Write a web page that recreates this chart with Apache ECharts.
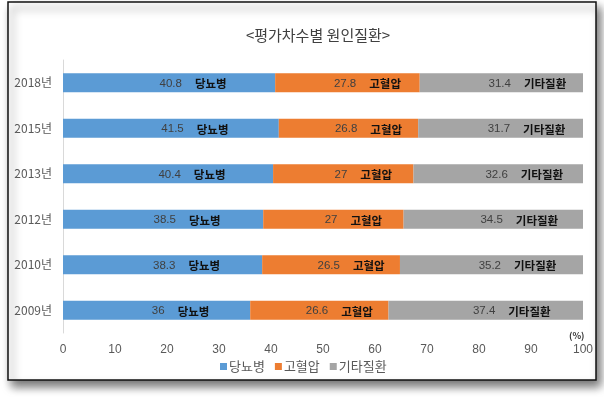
<!DOCTYPE html>
<html>
<head>
<meta charset="utf-8">
<script src="https://cdn.jsdelivr.net/npm/echarts@6/dist/echarts.min.js"></script>
<style>
	html, body { margin: 0; padding: 0; background: #fff; }
	#chart { width: 604px; height: 397px; }
</style>
</head>
<body>
<div id="chart"></div>
<script>
// 위에서 아래 순서 (yAxis inverse)
const years = ["2018년", "2015년", "2013년", "2012년", "2010년", "2009년"];
const diabetes = [40.8, 41.5, 40.4, 38.5, 38.3, 36];
const hypertension = [27.8, 26.8, 27, 27, 26.5, 26.6];
const others = [31.4, 31.7, 32.6, 34.5, 35.2, 37.4];
const seriesNames = ["당뇨병", "고혈압", "기타질환"];
const colors = ["#5b9bd5", "#ed7d31", "#a5a5a5"];
const xTicks = [0, 10, 20, 30, 40, 50, 60, 70, 80, 90, 100];

const font = "'Noto Sans CJK KR', 'Noto Sans', sans-serif";

function makeSeries(name, data, color, dx) {
	return {
		name: name,
		type: "bar",
		stack: "total",
		barWidth: 19,
		data: data,
		itemStyle: { color: color },
		label: {
			show: true,
			position: "inside",
			offset: [dx, 1],
			formatter: (p) => "{v|" + p.value + "}{n|" + name + "}",
			rich: {
				v: { fontSize: 11.5, color: "#404040", fontFamily: "'Liberation Sans', sans-serif", padding: [0, 13, 0, 0] },
				n: { fontSize: 11.5, color: "#111", fontWeight: "bold", fontFamily: font },
			},
		},
	};
}

const chart = echarts.init(document.getElementById("chart"));
chart.setOption({
	animation: false,
	textStyle: { fontFamily: font },
	graphic: [
		{
			type: "rect",
			z: -10,
			shape: { x: 8, y: 2, width: 588, height: 378 },
			style: {
				fill: "#fff",
				stroke: "#111",
				lineWidth: 1.5,
				shadowBlur: 9,
				shadowOffsetX: 4,
				shadowOffsetY: 6,
				shadowColor: "rgba(0,0,0,0.55)",
			},
		},
		{
			type: "text",
			left: 569,
			top: 331,
			style: { text: "(%)", fontSize: 9, fontWeight: "bold", fill: "#333", fontFamily: font },
		},
	],
	title: {
		text: "<평가차수별 원인질환>",
		left: 313,
		textAlign: "center",
		top: 23,
		textStyle: { fontSize: 15, fontWeight: "normal", color: "#404040", fontFamily: font },
	},
	legend: {
		data: seriesNames,
		left: 215,
		top: 355,
		itemWidth: 7,
		itemHeight: 7,
		itemGap: 10,
		icon: "rect",
		textStyle: { fontSize: 13, color: "#595959", padding: [0, 0, 0, -3] },
	},
	grid: { left: 63, right: 21, top: 60, bottom: 64 },
	xAxis: {
		type: "value",
		min: 0,
		max: 100,
		interval: 10,
		axisLine: { show: false },
		axisTick: { show: false },
		splitLine: { show: false },
		axisLabel: {
			margin: 11,
			fontSize: 12,
			color: "#595959",
			fontFamily: "'Liberation Sans', sans-serif",
			formatter: (v) => (xTicks.indexOf(v) >= 0 ? String(v) : ""),
		},
	},
	yAxis: {
		type: "category",
		data: years,
		inverse: true,
		axisLine: { show: true, lineStyle: { color: "#d9d9d9" } },
		axisTick: { show: false },
		axisLabel: { margin: 11, fontSize: 12, color: "#595959" },
	},
	series: [
		makeSeries(seriesNames[0], diabetes, colors[0], 24),
		makeSeries(seriesNames[1], hypertension, colors[1], 20),
		makeSeries(seriesNames[2], others, colors[2], 26),
	],
});
</script>
</body>
</html>
